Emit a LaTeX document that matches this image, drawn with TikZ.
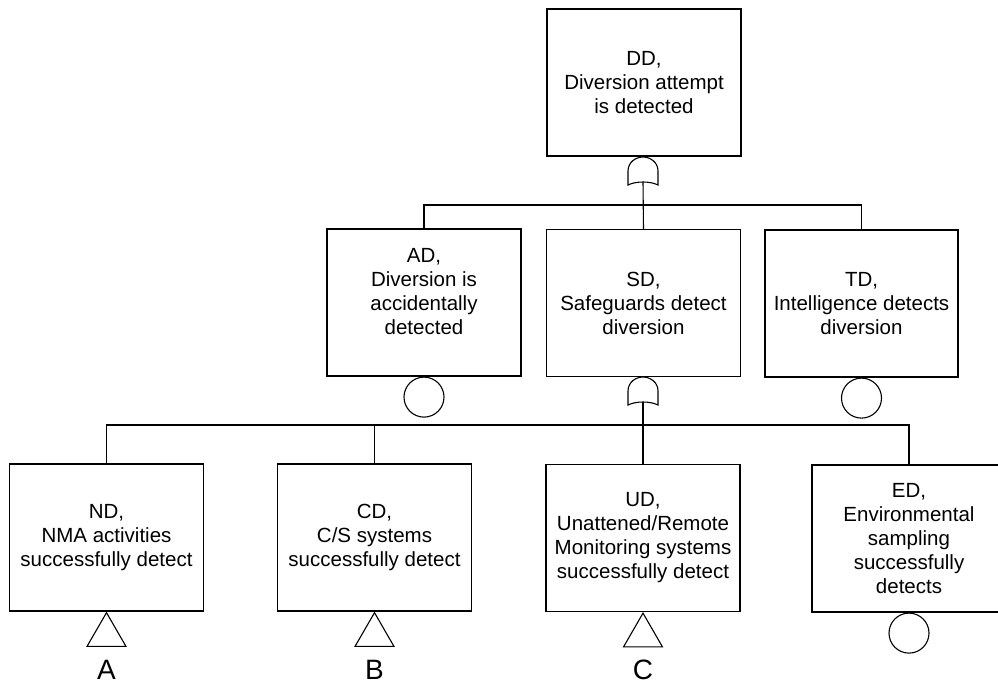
\documentclass[tikz,border=0pt]{standalone}
\usepackage{fontspec}
\setmainfont{Liberation Sans}
\usetikzlibrary{calc,shapes.geometric}
\begin{document}
\begin{tikzpicture}[x=1pt,y=-1pt,
  line width=1.1pt,
  evbox/.style={draw, rectangle, minimum width=194, minimum height=147,
    inner sep=0pt, align=center, font=\fontsize{20.5}{24}\selectfont},
  evtext/.style={inner sep=0pt, align=center, font=\fontsize{20.5}{24}\selectfont},
  gatebox/.style={rectangle, minimum width=30, minimum height=28, inner sep=0pt},
  basic/.style={draw, circle, minimum size=40, inner sep=0pt},
  undev/.style={draw, regular polygon, regular polygon sides=3,
    minimum size=45, inner sep=0pt},
  xfer/.style={font=\fontsize{28}{28}\selectfont, inner sep=0pt, anchor=base}]
\useasboundingbox (0,0) rectangle (998,683);

% OR gate outline drawn around a named anchor box
\newcommand{\orgate}[1]{%
  \draw ($(#1)+(-15,14)$) -- ($(#1)+(-15,0)$)
    .. controls ($(#1)+(-15,-9)$) and ($(#1)+(-7,-14)$) .. ($(#1)+(0,-14)$)
    .. controls ($(#1)+(7,-14)$) and ($(#1)+(15,-9)$) .. ($(#1)+(15,0)$)
    -- ($(#1)+(15,14)$)
    .. controls ($(#1)+(7,10)$) and ($(#1)+(-7,10)$) .. cycle;}

% top event
\node[evbox] (DD) at (644,82.5) {DD,\\Diversion attempt\\is detected};

% second level
\node[evbox] (AD) at (424,302.5) {};
\node[evtext] (ADt) at ($(AD)+(0,-11)$) {AD,\\Diversion is\\accidentally\\detected};
\node[evbox] (SD) at (643.5,303) {SD,\\Safeguards detect\\diversion};
\node[evbox, minimum width=193] (TD) at (861.5,303.5) {TD,\\Intelligence detects\\diversion};

% third level
\node[evbox] (ND) at (106.5,537.5) {ND,\\NMA activities\\successfully detect};
\node[evbox] (CD) at (374.5,537.5) {CD,\\C/S systems\\successfully detect};
\node[evbox] (UD) at (643,538) {UD,\\Unattened/Remote\\Monitoring systems\\successfully detect};
\node[evbox] (ED) at (909,538.5) {ED,\\Environmental\\sampling\\successfully\\detects};

% gates
\node[gatebox] (G1) at (643,171) {};
\node[gatebox] (G2) at (643,391) {};
\orgate{G1}
\orgate{G2}

% buses
\coordinate (B1) at (643,205);
\coordinate (B2) at (643,425);
\draw ($(G1)+(0,11)$) -- (SD.north);
\draw (AD.north) |- (B1) -| (TD.north);
\draw ($(G2)+(0,11)$) -- (UD.north);
\draw (ND.north) |- (B2) -| (ED.north);
\draw (CD.north) -- (CD.north |- B2);

% basic events
\node[basic, anchor=north] (ADc) at (AD.south) {};
\node[basic, anchor=north] (TDc) at (TD.south) {};
\node[basic, anchor=north] (EDc) at (ED.south) {};

% undeveloped events with transfer labels
\node[undev, anchor=corner 1] (NDt) at (ND.south) {};
\node[undev, anchor=corner 1] (CDt) at (CD.south) {};
\node[undev, anchor=corner 1] (UDt) at (UD.south) {};
\node[xfer] (LA) at (106.5,679) {A};
\node[xfer] (LB) at (374.5,679) {B};
\node[xfer] (LC) at (643,679) {C};
\end{tikzpicture}
\end{document}
